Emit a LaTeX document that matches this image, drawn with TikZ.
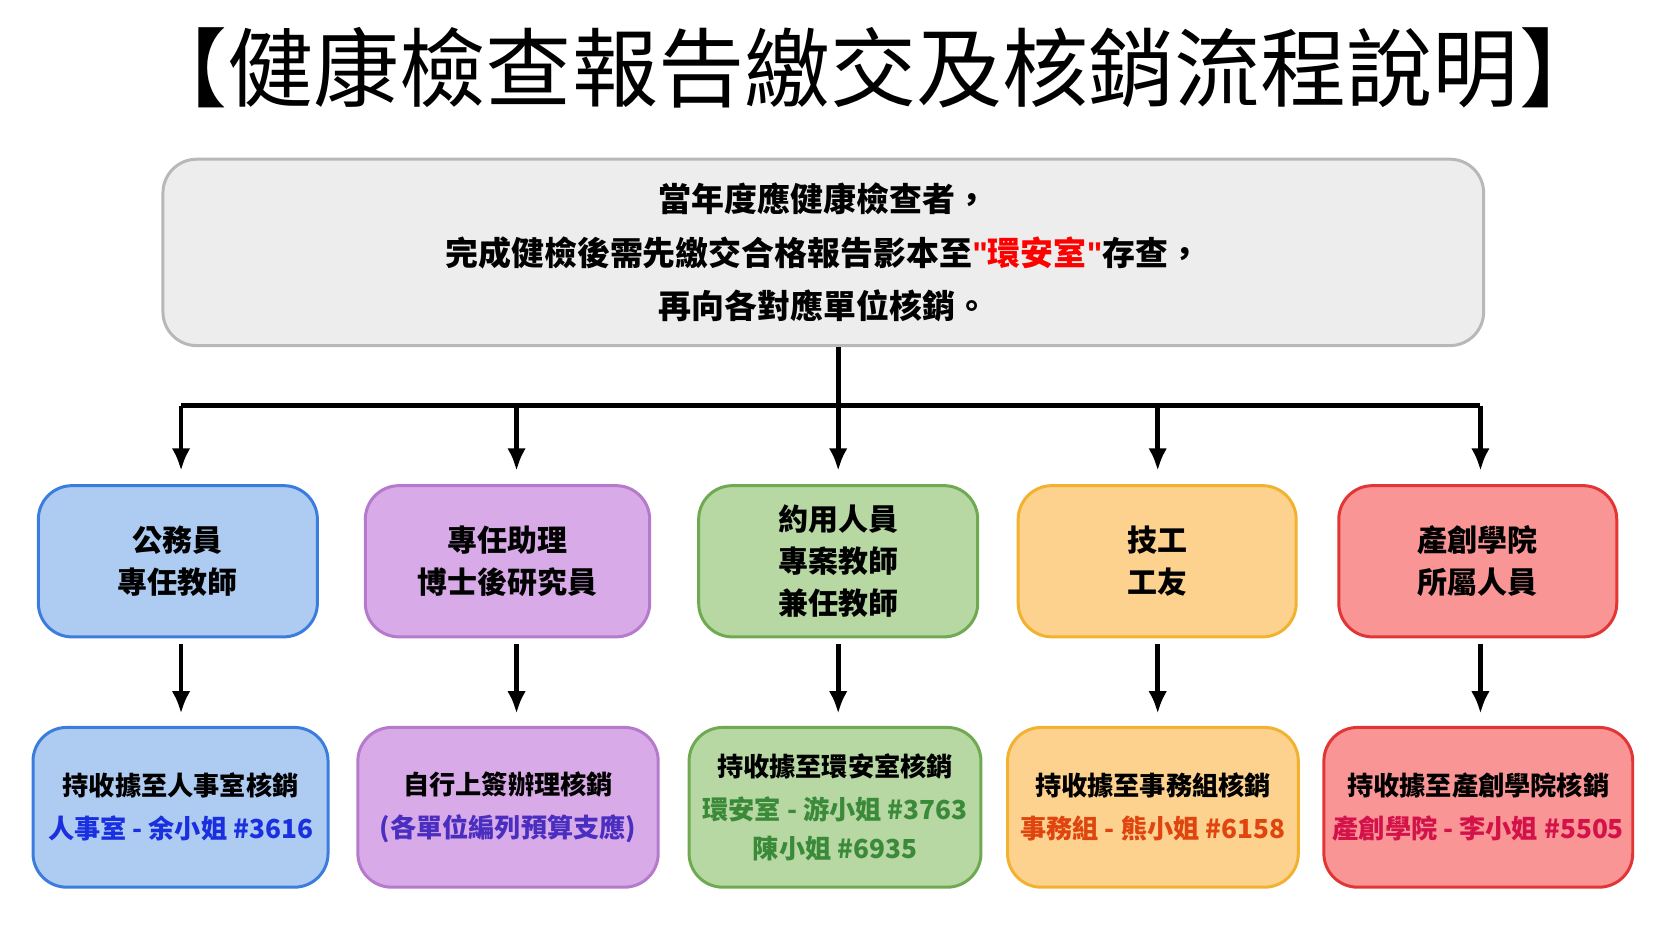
\documentclass[tikz,border=0pt]{standalone}
\usepackage{fontspec}
\setmainfont{Noto Sans CJK TC}
\newfontfamily\quotefont{Liberation Sans}
\usetikzlibrary{arrows.meta}
\definecolor{grayfill}{HTML}{EDEDED}
\definecolor{grayline}{HTML}{B8B8B8}
\definecolor{bluefill}{HTML}{AECBF2}
\definecolor{blueline}{HTML}{3B7DDD}
\definecolor{purpfill}{HTML}{D9AAE8}
\definecolor{purpline}{HTML}{B57ACB}
\definecolor{greenfill}{HTML}{B7D7A3}
\definecolor{greenline}{HTML}{6FAA52}
\definecolor{orangefill}{HTML}{FDD28E}
\definecolor{orangeline}{HTML}{F2B230}
\definecolor{redfill}{HTML}{F99595}
\definecolor{redline}{HTML}{E23535}
\definecolor{bluetext}{HTML}{1A30E0}
\definecolor{purptext}{HTML}{4A2EC0}
\definecolor{greentext}{HTML}{3A8A3A}
\definecolor{orangetext}{HTML}{E04510}
\definecolor{redtext}{HTML}{D3124A}
\newcommand{\qmark}{{\quotefont\bfseries"}}
\tikzset{
  card/.style={draw, rounded corners=9pt, line width=0.8pt, align=center,
    font=\bfseries\fontsize{8}{11.3}\selectfont, inner sep=0pt},
  slip/.style={card, font=\bfseries\fontsize{7}{10.5}\selectfont, minimum height=1.5cm},
  link/.style={-{Latex[length=6pt,width=5pt]}, line width=1.3pt},
}
\begin{document}
\begin{tikzpicture}
      \useasboundingbox[fill=white] (0,0) rectangle (15.68,8.84);
      \node (title) at (8.2,8.2) {\fontsize{23}{26}\selectfont 【健康檢查報告繳交及核銷流程說明】};

      \node[card, fill=grayfill, draw=grayline, minimum width=12.4cm, minimum height=1.75cm,
        font=\bfseries\fontsize{8.8}{14.3}\selectfont] (top) at (7.73,6.47)
        {當年度應健康檢查者，\\完成健檢後需先繳交合格報告影本至\textcolor{red}{\qmark 環安室\qmark}存查，\\再向各對應單位核銷。};

      % first row
      \node[card, fill=bluefill, draw=blueline, minimum width=2.62cm, minimum height=1.42cm] (civil) at (1.67,3.57) {公務員\\專任教師};
      \node[card, fill=purpfill, draw=purpline, minimum width=2.67cm, minimum height=1.42cm] (assist) at (4.765,3.57) {專任助理\\博士後研究員};
      \node[card, fill=greenfill, draw=greenline, minimum width=2.62cm, minimum height=1.42cm] (contract) at (7.87,3.57) {約用人員\\專案教師\\兼任教師};
      \node[card, fill=orangefill, draw=orangeline, minimum width=2.61cm, minimum height=1.42cm] (worker) at (10.865,3.57) {技工\\工友};
      \node[card, fill=redfill, draw=redline, minimum width=2.61cm, minimum height=1.42cm] (college) at (13.875,3.57) {產創學院\\所屬人員};

      % second row
      \node[slip, fill=bluefill, draw=blueline, minimum width=2.77cm] (hr) at (1.695,1.26)
        {持收據至人事室核銷\\[1pt]\textcolor{bluetext}{人事室 - 余小姐 \#3616}};
      \node[slip, fill=purpfill, draw=purpline, minimum width=2.82cm] (self) at (4.77,1.26)
        {自行上簽辦理核銷\\[1pt]\textcolor{purptext}{(各單位編列預算支應)}};
      \node[slip, fill=greenfill, draw=greenline, minimum width=2.74cm] (safety) at (7.84,1.26)
        {持收據至環安室核銷\\[1pt]\textcolor{greentext}{環安室 - 游小姐 \#3763}\\\textcolor{greentext}{陳小姐 \#6935}};
      \node[slip, fill=orangefill, draw=orangeline, minimum width=2.73cm] (affairs) at (10.825,1.26)
        {持收據至事務組核銷\\[1pt]\textcolor{orangetext}{事務組 - 熊小姐 \#6158}};
      \node[slip, fill=redfill, draw=redline, minimum width=2.9cm] (office) at (13.88,1.26)
        {持收據至產創學院核銷\\[1pt]\textcolor{redtext}{產創學院 - 李小姐 \#5505}};

      % branches
      \coordinate (split) at (7.87,5.03);
      \draw[line width=1.3pt] (top.south -| split) -- (split);
      \draw[line width=1.3pt] (1.7,5.03) -- (13.9,5.03);
      \foreach \a/\b/\x in {civil/hr/1.7, assist/self/4.85, contract/safety/7.87, worker/affairs/10.87, college/office/13.9} {
        \draw[link] (\x,5.03) -- (\x,4.42);
        \draw[link] (\x,2.79) -- (\x,2.14);
      }
    \end{tikzpicture}
\end{document}
